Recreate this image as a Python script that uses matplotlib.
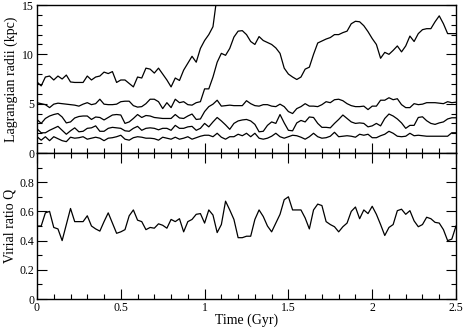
import numpy as np
import matplotlib
matplotlib.use("Agg")
import matplotlib.pyplot as plt
from matplotlib.ticker import MultipleLocator, FixedLocator

plt.rcParams['font.family'] = ['Liberation Serif', 'DejaVu Serif']

dt = 0.025
time = np.arange(101) * dt

r10 = [1.65,1.3,1.65,1.25,1.65,1.45,1.25,1.15,1.6,1.5,
       1.55,1.65,1.4,1.5,1.6,1.5,1.25,1.5,1.55,1.65,
       1.8,1.4,1.3,1.55,1.65,1.6,1.5,1.5,1.45,1.3,
       1.6,1.5,1.4,1.6,1.4,1.5,1.65,1.4,1.55,1.7,
       1.8,1.8,1.65,2.0,1.6,1.4,1.65,1.65,1.9,1.75,
       2.0,1.65,2.0,1.5,1.4,1.5,1.7,2.0,1.65,1.5,
       1.65,1.8,1.75,1.6,1.4,1.65,2.0,1.65,1.5,1.55,
       1.7,2.1,1.65,1.7,1.75,1.7,1.6,1.9,1.8,1.9,
       1.55,1.55,1.75,1.9,2.2,2.0,1.7,1.65,1.7,2.0,
       1.75,1.8,1.75,1.7,1.7,1.7,1.7,1.7,1.7,2.05,
       2.05]

r25 = [2.45,2.05,2.05,2.3,2.5,2.7,2.3,1.9,2.25,2.55,
       2.15,2.2,2.5,2.55,2.75,2.2,2.2,2.5,2.6,2.55,
       2.5,2.25,2.2,2.5,2.7,2.3,2.5,2.55,2.5,2.35,
       2.5,2.5,2.3,2.8,2.5,2.5,2.65,2.7,2.3,2.5,
       3.0,2.65,3.15,3.6,3.25,2.85,2.4,3.0,3.25,3.35,
       3.4,3.25,2.9,2.15,2.2,2.8,3.15,3.0,3.9,3.05,
       2.3,2.25,3.05,3.3,3.15,3.65,3.6,3.0,2.6,2.6,
       2.55,3.0,3.4,3.85,3.5,3.15,3.0,3.05,3.0,2.65,
       2.75,3.0,2.75,3.5,3.95,3.75,3.45,3.05,2.5,2.8,
       2.8,3.6,3.67,3.27,3.0,2.9,3.05,3.15,3.45,3.57,
       3.57]

r50 = [3.4,3.0,3.5,3.75,3.9,4.0,3.65,3.05,3.15,3.55,
       3.7,3.75,3.75,3.4,3.65,3.6,3.35,3.6,3.85,3.9,
       3.85,3.0,3.15,3.5,3.9,3.6,3.8,3.75,3.6,3.55,
       3.5,3.5,3.5,3.9,3.55,3.5,3.75,3.95,3.4,3.45,
       4.2,4.7,4.95,5.35,4.75,4.8,4.85,4.8,4.8,4.8,
       5.3,5.0,4.8,4.75,4.9,4.9,4.75,4.7,4.95,4.7,
       4.2,4.0,4.5,4.7,5.0,4.75,4.75,4.7,4.9,5.2,
       5.1,5.4,5.45,5.3,5.0,4.8,4.7,4.7,4.75,4.4,
       4.75,4.75,5.35,5.35,5.6,5.4,5.5,4.9,4.6,4.6,
       5.0,4.9,4.95,5.1,5.1,5.1,5.05,5.0,5.2,5.1,
       5.15]

r75 = [5.1,5.0,4.9,4.6,4.95,5.05,5.0,4.95,4.9,4.85,
       4.75,4.95,5.1,4.9,5.0,5.45,4.95,4.9,4.9,4.95,
       5.2,5.25,5.25,4.8,4.65,4.7,5.0,5.45,5.45,5.2,
       4.5,5.1,4.6,5.45,5.1,5.2,4.9,4.85,5.1,5.2,
       6.5,6.5,7.7,9.2,10.1,9.9,10.6,11.75,12.35,12.4,
       12.0,11.3,11.0,11.8,11.4,11.2,11.0,10.65,10.1,8.6,
       8.0,7.7,7.45,7.7,8.5,8.7,10.0,11.15,11.35,11.55,
       11.7,12.0,12.0,12.2,12.35,13.1,13.35,13.3,12.9,12.3,
       11.6,11.0,9.6,10.2,10.0,10.4,10.85,10.25,10.85,11.85,
       11.3,12.1,12.5,12.6,12.6,13.3,13.9,13.1,12.1,12.1,
       12.1]

r90 = [7.2,6.8,7.7,7.8,7.4,7.8,7.5,7.9,7.2,7.15,
       7.15,7.15,7.8,7.4,7.7,7.8,8.2,8.05,8.25,7.15,
       7.4,7.4,7.05,6.7,7.7,7.6,8.6,8.5,8.1,8.6,
       8.0,7.4,6.7,7.6,7.35,8.4,9.1,9.8,9.2,10.6,
       11.4,12.0,12.8,16.0]

Q = [0.50,0.50,0.59,0.60,0.49,0.48,0.40,0.51,0.62,0.53,
     0.53,0.53,0.57,0.50,0.48,0.465,0.53,0.59,0.52,0.45,
     0.46,0.475,0.57,0.61,0.54,0.53,0.475,0.49,0.485,0.515,
     0.505,0.485,0.545,0.53,0.55,0.46,0.53,0.545,0.58,0.585,
     0.52,0.61,0.575,0.455,0.51,0.67,0.61,0.545,0.42,0.42,
     0.43,0.43,0.545,0.61,0.565,0.50,0.46,0.52,0.58,0.68,
     0.70,0.61,0.61,0.61,0.555,0.48,0.61,0.65,0.64,0.53,
     0.51,0.495,0.46,0.495,0.52,0.60,0.63,0.55,0.61,0.585,
     0.635,0.58,0.51,0.435,0.49,0.51,0.605,0.615,0.58,0.605,
     0.535,0.495,0.51,0.56,0.55,0.525,0.52,0.475,0.40,0.41,
     0.50]

xticks = [0, 0.5, 1, 1.5, 2, 2.5]
xticklabels = ['0', '0.5', '1', '1.5', '2', '2.5']
r_ticks = [0, 5, 10, 15]
r_ticklabels = ['0', '5', '10', '15']
q_ticks = [0, 0.2, 0.4, 0.6, 0.8, 1.0]
q_ticklabels = ['0', '0.2', '0.4', '0.6', '0.8', '']

W, H = 463, 331
fig = plt.figure(figsize=(W/100, H/100), dpi=100)
L = 37/W
Wd = (456-37)/W
ax1 = fig.add_axes([L, 1-153/H, Wd, (153-5)/H])
ax2 = fig.add_axes([L, 1-299/H, Wd, (299-153)/H])

lw = 0.9
for r in (r10, r25, r50, r75):
    ax1.plot(time, r, color='black', lw=lw)
ax1.plot(time[:len(r90)], r90, color='black', lw=lw)
ax2.plot(time, Q, color='black', lw=lw)

ax1.set_xlim(0, 2.5)
ax1.set_ylim(0, 15)
ax2.set_xlim(0, 2.5)
ax2.set_ylim(0, 1)

ax1.yaxis.set_major_locator(FixedLocator(r_ticks))
ax1.yaxis.set_minor_locator(MultipleLocator(1))
ax1.set_yticklabels(r_ticklabels)
ax2.yaxis.set_major_locator(FixedLocator(q_ticks))
ax2.yaxis.set_minor_locator(MultipleLocator(0.1))
ax2.set_yticklabels(q_ticklabels)
for ax in (ax1, ax2):
    ax.xaxis.set_major_locator(FixedLocator(xticks))
    ax.xaxis.set_minor_locator(MultipleLocator(0.1))
    for s in ax.spines.values():
        s.set_linewidth(1.0)
ax2.set_xticklabels(xticklabels)
ax1.tick_params(axis='both', which='both', direction='in', top=False, right=True,
                labelbottom=False, labelsize=8.5, pad=2)
ax2.tick_params(axis='both', which='both', direction='in', top=True, right=True,
                labelsize=8.5, pad=2)
for ax in (ax1, ax2):
    ax.tick_params(which='major', length=7, width=0.8)
    ax.tick_params(which='minor', length=3.5, width=0.8)

ax1.set_ylabel('Lagrangian radii (kpc)', fontsize=10)
ax2.set_ylabel('Virial ratio Q', fontsize=10)
ax2.set_xlabel('Time (Gyr)', fontsize=10, labelpad=0)
ax1.yaxis.set_label_coords(-19/419, 0.5)
ax2.yaxis.set_label_coords(-20/419, 0.5)

fig.savefig('out.png', dpi=100)
